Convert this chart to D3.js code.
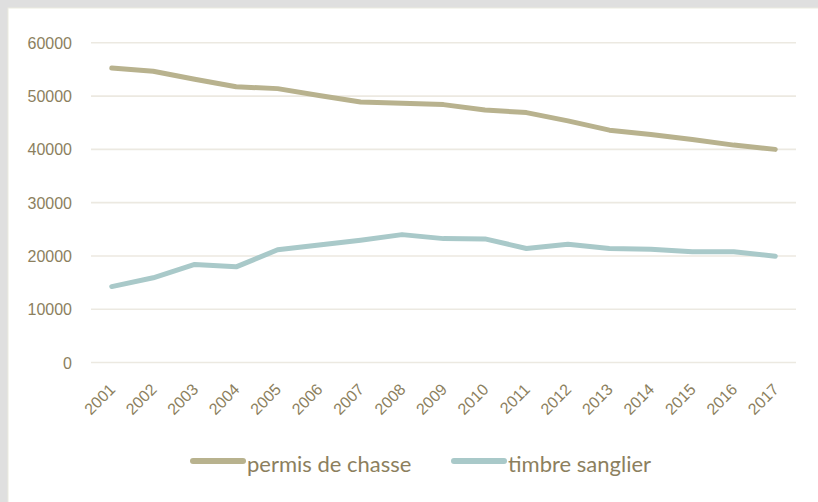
<!DOCTYPE html>
<html>
<head>
<meta charset="utf-8">
<script src="https://cdn.jsdelivr.net/npm/d3@7"></script>
<style>
  body { margin: 0; background: #dfdfdf; }
  svg { display: block; font-family: Lato, "Open Sans", sans-serif; }
</style>
</head>
<body>
<svg id="graf"></svg>
<script>
let annees = ['2001','2002','2003','2004','2005','2006','2007','2008','2009',
              '2010','2011','2012','2013','2014','2015','2016','2017']
let permis = [55250, 54650, 53150, 51750, 51400, 50100, 48900, 48650, 48400,
              47400, 46900, 45350, 43600, 42800, 41850, 40800, 40000]
let timbre = [14250, 15900, 18400, 17950, 21150, 22050, 22950, 24000, 23250,
              23200, 21400, 22200, 21400, 21250, 20800, 20800, 19950]
let yTicks = [0, 10000, 20000, 30000, 40000, 50000, 60000]
let series = [
  { nom: 'permis de chasse', valeurs: permis, couleur: '#b8b28e' },
  { nom: 'timbre sanglier', valeurs: timbre, couleur: '#a9c9c9' }
]

function graficar() {
  let w = 818, h = 502
  let texte = '#8c7f5e'
  let svg = d3.select('#graf').attr('width', w).attr('height', h)

  // fond blanc du graphique
  svg.append('rect')
    .attr('x', 8).attr('y', 8)
    .attr('width', w).attr('height', h)
    .style('fill', '#fff')
    .style('stroke', '#ecebe0')

  let x = d3.scalePoint().domain(annees).range([91, 796]).padding(0.5)
  let y = d3.scaleLinear().domain([0, 60000]).range([362.5, 42.8])

  // grille
  svg.append('g').selectAll('line')
    .data(yTicks)
    .enter().append('line')
    .attr('x1', 91).attr('x2', 796)
    .attr('y1', d => y(d)).attr('y2', d => y(d))
    .style('stroke', '#ece9e1')
    .style('stroke-width', 1.6)

  // axe y
  let ay = svg.append('g')
    .attr('transform', 'translate(72,0)')
    .call(d3.axisLeft(y).tickValues(yTicks).tickSize(0).tickPadding(0).tickFormat(d3.format('d')))
  ay.select('.domain').remove()
  ay.selectAll('text')
    .style('fill', texte)
    .style('font-size', '16px')
    .attr('dy', '0.35em')

  // axe x
  let ax = svg.append('g')
    .attr('transform', 'translate(0,362.5)')
    .call(d3.axisBottom(x).tickSize(0))
  ax.select('.domain').remove()
  ax.selectAll('text')
    .style('fill', texte)
    .style('font-size', '16px')
    .style('text-anchor', 'end')
    .attr('y', 0).attr('dy', 0)
    .attr('transform', 'translate(4,28) rotate(-45)')

  // lignes
  let ligne = d3.line()
    .x((d, i) => x(annees[i]))
    .y(d => y(d))

  svg.selectAll('path.serie')
    .data(series)
    .enter().append('path')
    .attr('class', 'serie')
    .attr('d', d => ligne(d.valeurs))
    .style('fill', 'none')
    .style('stroke', d => d.couleur)
    .style('stroke-width', 5)
    .style('stroke-linecap', 'round')
    .style('stroke-linejoin', 'round')

  // légende
  let legX = [190, 451]
  let leg = svg.selectAll('g.leg')
    .data(series)
    .enter().append('g')
    .attr('class', 'leg')
    .attr('transform', (d, i) => 'translate(' + legX[i] + ',461)')

  leg.append('line')
    .attr('x1', 3).attr('x2', 53)
    .attr('y1', 0).attr('y2', 0)
    .style('stroke', d => d.couleur)
    .style('stroke-width', 6)
    .style('stroke-linecap', 'round')

  leg.append('text')
    .text(d => d.nom)
    .attr('x', 57)
    .attr('y', 11)
    .style('fill', texte)
    .style('font-size', '22px')
}

graficar()
</script>
</body>
</html>
